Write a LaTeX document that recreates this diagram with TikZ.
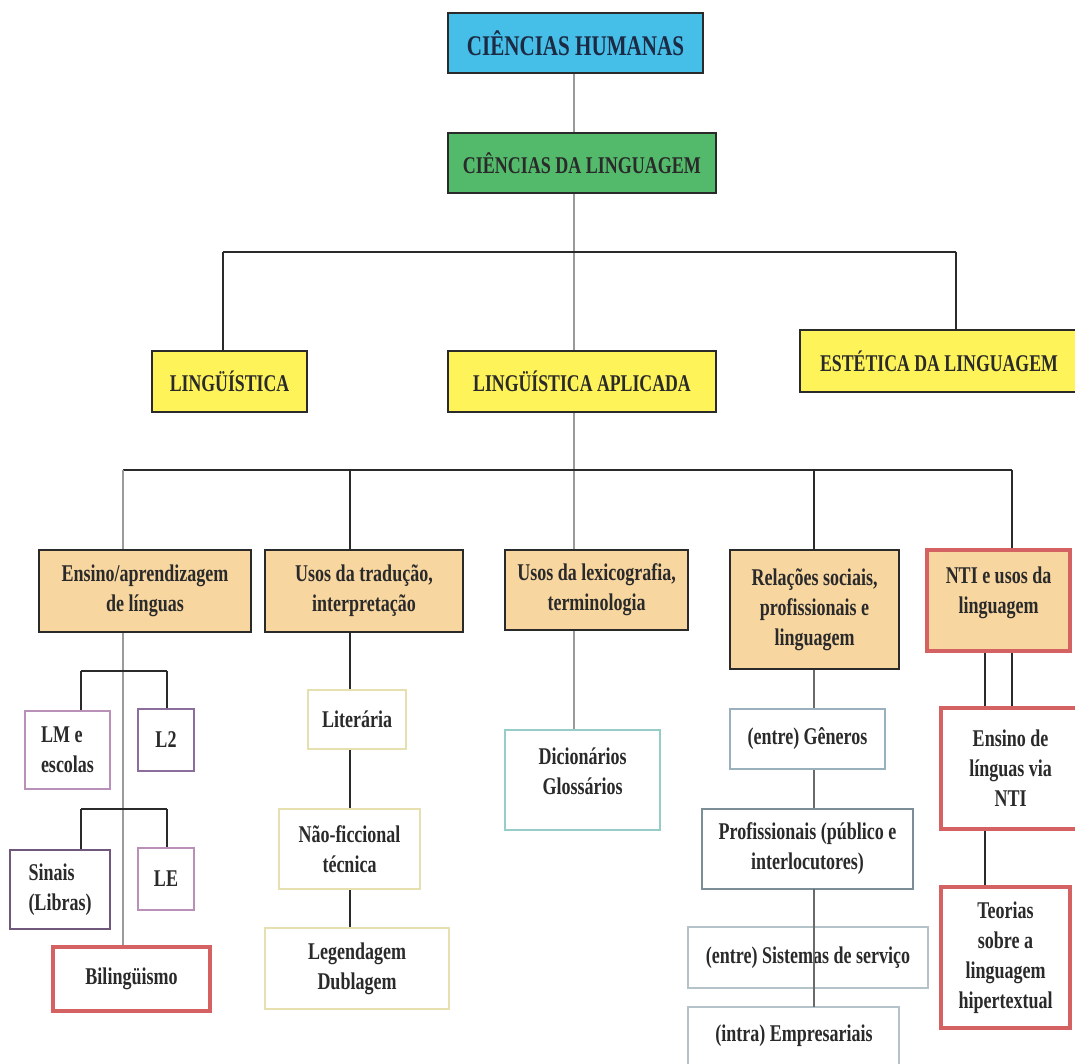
\documentclass[tikz,border=0pt]{standalone}
\usepackage{fontspec}
\setmainfont{Liberation Serif}[FakeStretch=0.75]
\newfontfamily\ftitle{Liberation Serif}[FakeStretch=0.74]
\usetikzlibrary{backgrounds}
\definecolor{cblue}{HTML}{45BEE8}
\definecolor{cgreen}{HTML}{52BA6A}
\definecolor{cyellow}{HTML}{FFF35A}
\definecolor{ctan}{HTML}{F8D6A0}
\definecolor{cred}{HTML}{D46262}
\definecolor{cdark}{HTML}{2A2A2A}
\definecolor{cnavy}{HTML}{1C2A44}
\definecolor{cgray}{HTML}{9A9A9A}
\definecolor{cpink}{HTML}{B890B8}
\definecolor{cpurple}{HTML}{8C6E9C}
\definecolor{cpale}{HTML}{E6E0B0}
\definecolor{cteal}{HTML}{98CCC8}
\definecolor{cslate}{HTML}{9AB0BC}
\definecolor{cslate2}{HTML}{B4C2CA}
\tikzset{
  pos/.style n args={4}{minimum width={#3-#1}, minimum height={#4-#2}, at={({(#1+#3)/2},{(#2+#4)/2})}},
  base/.style={rectangle, inner sep=2pt, outer sep=0pt, align=center, text=cdark, font=\bfseries\fontsize{24}{30}\selectfont},
  hdr/.style={base, draw=cdark, line width=2pt},
  lvone/.style={hdr, fill=cyellow, font=\ftitle\bfseries\fontsize{24}{30}\selectfont},
  lvtwo/.style={hdr, fill=ctan},
  redbox/.style={base, draw=cred, line width=4pt},
  thinbox/.style={base, line width=1.5pt, fill=white},
  bline/.style={draw=cdark, line width=1.2pt},
  busline/.style={draw=cdark, line width=2pt},
  gline/.style={draw=cgray, line width=1.3pt}
}
\begin{document}
\begin{tikzpicture}[x=1pt,y=-1pt]
\useasboundingbox (0,0) rectangle (1075,1064);
% top
\node[hdr, fill=cblue, text=cnavy, font=\ftitle\bfseries\fontsize{28.5}{30}\selectfont, pos={448}{13}{703}{73}] (ch) {CIÊNCIAS HUMANAS};
\node[hdr, fill=cgreen, font=\bfseries\fontsize{24}{30}\selectfont, pos={448}{133}{716}{193}] (cl) {CIÊNCIAS DA LINGUAGEM};
% level 1
\node[lvone, pos={152}{351}{307}{412}] (ling) {LINGÜÍSTICA};
\node[lvone, pos={448}{351}{716}{412}] (la) {LINGÜÍSTICA APLICADA};
\node[lvone, pos={800}{330}{1078}{392}] (el) {ESTÉTICA DA LINGUAGEM};
% level 2
\node[lvtwo, pos={39}{550}{251}{632}] (ens) {Ensino/aprendizagem\\de línguas};
\node[lvtwo, pos={265}{550}{463}{632}] (trad) {Usos da tradução,\\interpretação};
\node[lvtwo, pos={505}{550}{688}{630}] (lex) {Usos da lexicografia,\\terminologia};
\node[lvtwo, pos={730}{550}{899}{669}] (rel) {Relações sociais,\\profissionais e\\linguagem};
\node[redbox, fill=ctan, pos={927}{550}{1070}{651}] (nti) {NTI e usos da\\linguagem\\[-10pt]\mbox{}};
% ensino subtree
\node[thinbox, draw=cpink, align=left, pos={25}{711}{110}{789}] (lm) {LM e\\escolas};
\node[thinbox, draw=cpurple, pos={138}{709}{194}{771}] (l2) {L2};
\node[thinbox, draw=cpurple!80!black, align=left, pos={10}{850}{110}{929}] (sin) {Sinais\\(Libras)};
\node[thinbox, draw=cpink, pos={138}{848}{194}{910}] (le) {LE};
\node[redbox, fill=white, pos={53}{947}{210}{1011}] (bil) {Bilingüismo};
% traducao subtree
\node[thinbox, draw=cpale, pos={308}{690}{406}{749}] (lit) {Literária};
\node[thinbox, draw=cpale, pos={279}{809}{420}{889}] (nao) {Não-ficcional\\técnica};
\node[thinbox, draw=cpale, pos={265}{928}{449}{1009}] (leg) {Legendagem\\Dublagem};
% lexicografia
\node[thinbox, draw=cteal, pos={505}{730}{660}{830}] (dic) {Dicionários\\Glossários\\[-12pt]\mbox{}};
% relacoes subtree
\node[thinbox, draw=cslate, pos={730}{709}{885}{769}] (gen) {(entre) Gêneros};
\node[thinbox, draw=cslate!80!black, pos={702}{809}{913}{889}] (prof) {Profissionais (público e\\interlocutores)};
\node[thinbox, draw=cslate2, pos={688}{927}{928}{988}] (sis) {(entre) Sistemas de serviço};
\node[thinbox, draw=cslate2, pos={688}{1007}{899}{1082}] (emp) {};
\node[base, at={(794,1036)}] (empt) {(intra) Empresariais};
% NTI subtree
\node[redbox, fill=white, pos={941}{708}{1080}{829}] (ensnti) {Ensino de\\línguas via\\NTI};
\node[redbox, fill=white, pos={941}{887}{1070}{1028}] (teo) {Teorias\\sobre a\\linguagem\\hipertextual};
% junction coordinates
\coordinate (vx) at (574,0);
\coordinate (b1l) at (223,252);
\coordinate (b1r) at (956,252);
\coordinate (b2l) at (123,470);
\coordinate (b2r) at (1012,470);
\coordinate (b2t) at (350,470);
\coordinate (b2s) at (814,470);
\coordinate (nx) at (985,0);
\coordinate (e1l) at (81,671);
\coordinate (e1r) at (167,671);
\coordinate (e2l) at (81,809);
\coordinate (e2r) at (167,809);
\begin{pgfonlayer}{background}
\draw[gline] (ch.south -| vx) -- (cl.north -| vx);
\draw[gline] (cl.south -| vx) -- (la.north -| vx);
\draw[gline] (la.south -| vx) -- (lex.north -| vx);
\draw[gline] (lex.south -| vx) -- (dic.north -| vx);
\draw[busline] (b1l) -- (b1r);
\draw[bline] (b1l) -- (b1l |- ling.north);
\draw[bline] (b1r) -- (b1r |- el.north);
\draw[busline] (b2l) -- (b2r);
\draw[gline] (b2l) -- (b2l |- bil.north);
\draw[bline] (b2t) -- (b2t |- trad.north);
\draw[bline] (b2s) -- (b2s |- rel.north);
\draw[bline] (b2r) -- (b2r |- nti.north);
\draw[bline] (b2t |- trad.south) -- (b2t |- lit.north);
\draw[bline] (b2t |- lit.south) -- (b2t |- nao.north);
\draw[bline] (b2t |- nao.south) -- (b2t |- leg.north);
\draw[bline] (e1l) -- (e1r);
\draw[bline] (e1l) -- (e1l |- lm.north);
\draw[bline] (e1r) -- (e1r |- l2.north);
\draw[bline] (e2l) -- (e2r);
\draw[bline] (e2l) -- (e2l |- sin.north);
\draw[bline] (e2r) -- (e2r |- le.north);
\draw[bline, draw=cdark!70] (b2s |- rel.south) -- (b2s |- gen.north);
\draw[bline, draw=cdark!70] (b2s |- gen.south) -- (b2s |- prof.north);
\draw[bline] (nx |- nti.south) -- (nx |- ensnti.north);
\draw[bline] (b2r |- nti.south) -- (b2r |- ensnti.north);
\draw[bline] (nx |- ensnti.south) -- (nx |- teo.north);
\end{pgfonlayer}
\draw[bline, draw=cdark!70] (b2s |- prof.south) -- (b2s |- emp.north);
\end{tikzpicture}
\end{document}
